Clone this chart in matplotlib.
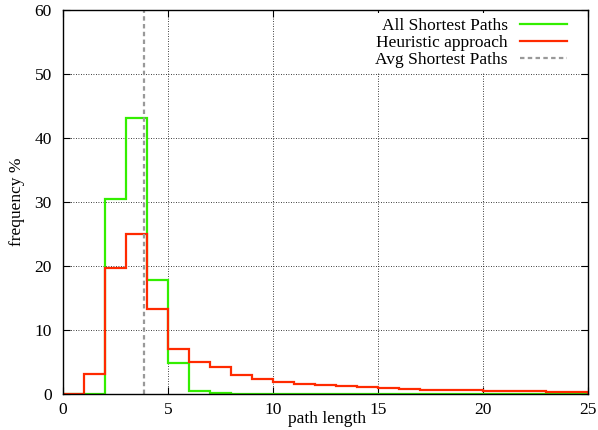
import matplotlib
matplotlib.use("Agg")
import matplotlib.pyplot as plt
import numpy as np

plt.rcParams['font.family'] = ['Liberation Serif', 'DejaVu Serif']

# path length bins 0..25
bin_edges = list(range(0, 26))
all_shortest = [0, 0, 30.5, 43.2, 17.8, 4.8, 0.4, 0.1, 0.05, 0.03, 0.02, 0.01, 0.01, 0.0,
                0.0, 0.0, 0.0, 0.0, 0.0, 0.0, 0.0, 0.0, 0.0, 0.0, 0.0]
heuristic = [0, 3.1, 19.7, 25.0, 13.3, 7.1, 5.0, 4.2, 3.0, 2.3, 1.9, 1.6, 1.45, 1.3,
             1.15, 0.95, 0.8, 0.7, 0.65, 0.55, 0.5, 0.5, 0.5, 0.35, 0.35]
avg_shortest = 3.86

x_ticks = [0, 5, 10, 15, 20, 25]
y_ticks = [0, 10, 20, 30, 40, 50, 60]

FS = 12.5

fig = plt.figure(figsize=(5.98, 4.3), dpi=100)
ax = fig.add_axes([63/598, 36/430, 525/598, 384/430])

ax.grid(True, color='black', linestyle=(0, (1, 2)), linewidth=0.6)
ax.set_axisbelow(True)

ax.stairs(all_shortest, bin_edges, color='#33ee00', linewidth=1.6, label='All Shortest Paths')
ax.stairs(heuristic, bin_edges, color='#ff2a00', linewidth=1.6, label='Heuristic approach')
ax.axvline(avg_shortest, color='#999999', linestyle=(0, (2, 1.5)), linewidth=1.6,
           label='Avg Shortest Paths')

ax.set_xlim(0, 25)
ax.set_ylim(0, 60)
ax.set_xticks(x_ticks)
ax.set_yticks(y_ticks)
ax.tick_params(direction='in', top=True, right=True, length=5, width=0.8, labelsize=FS)
ax.tick_params(axis='y', pad=8)
ax.tick_params(axis='x', pad=6)
for s in ax.spines.values():
    s.set_linewidth(1.0)

ax.set_xlabel('path length', fontsize=FS, va='center')
ax.xaxis.set_label_coords(0.503, -0.066)
ax.set_ylabel('frequency %', fontsize=FS, va='center')
ax.yaxis.set_label_coords(-0.0876, 0.5)

leg = ax.legend(loc='upper right', markerfirst=False, frameon=True, fontsize=FS,
                handlelength=2.7, borderaxespad=0.1, labelspacing=0.05, handletextpad=0.7,
                borderpad=0.3, fancybox=False, bbox_to_anchor=(0.973, 0.997))
leg.get_frame().set_edgecolor('none')
leg.get_frame().set_facecolor('white')
leg.get_frame().set_alpha(1.0)
for t in leg.get_texts():
    t.set_ha('right')
leg._legend_box.align = 'right'

fig.savefig('out.png', dpi=100)
